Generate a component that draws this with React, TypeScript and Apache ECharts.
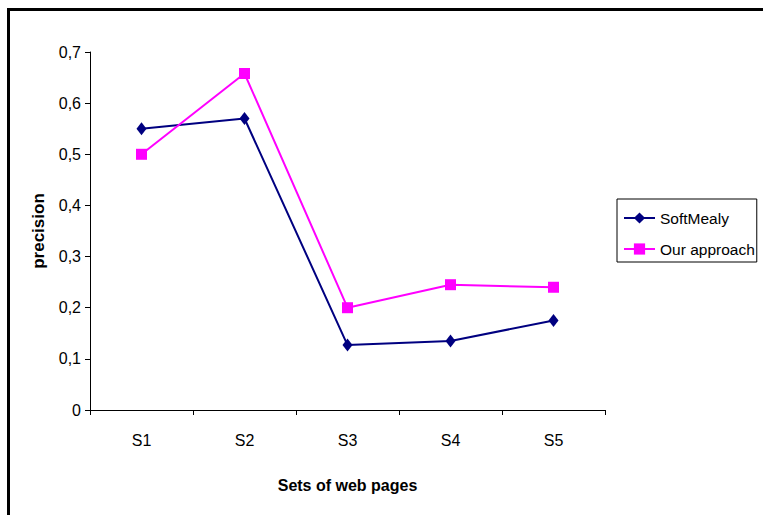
import React, { useEffect, useRef } from "react";
import * as echarts from "echarts";

const categories = ["S1", "S2", "S3", "S4", "S5"];
const softMealy = [0.55, 0.57, 0.127, 0.135, 0.175];
const ourApproach = [0.5, 0.658, 0.2, 0.245, 0.24];
const seriesNames = ["SoftMealy", "Our approach"];

const FONT = "'Liberation Sans', Arial, sans-serif";

export default function App() {
  const ref = useRef<HTMLDivElement>(null);
  useEffect(() => {
    if (!ref.current) return;
    const chart = echarts.init(ref.current, undefined, { renderer: "svg" });
    chart.setOption({
      animation: false,
      backgroundColor: "#fff",
      textStyle: { fontFamily: FONT },
      graphic: [
        {
          type: "rect",
          shape: { x: 8.5, y: 9.5, width: 900, height: 700 },
          style: { fill: "none", stroke: "#000", lineWidth: 3 },
          silent: true,
        },
      ],
      grid: { left: 90, top: 52, right: 158, bottom: 105, containLabel: false },
      legend: {
        orient: "vertical",
        left: 617,
        top: 199,
        borderColor: "#000",
        borderWidth: 1,
        borderRadius: 0,
        padding: [11, 2, 5, 6],
        itemGap: 15,
        itemWidth: 31,
        itemHeight: 14,
        textStyle: { fontSize: 15.5, color: "#000", fontFamily: FONT },
        data: seriesNames,
      },
      xAxis: {
        type: "category",
        data: categories,
        boundaryGap: true,
        name: "Sets of web pages",
        nameLocation: "middle",
        nameGap: 67,
        nameTextStyle: { fontSize: 16, fontWeight: "bold", color: "#000", fontFamily: FONT },
        axisLine: { lineStyle: { color: "#000", width: 1 } },
        axisTick: { show: true, length: 5, lineStyle: { color: "#000" } },
        axisLabel: { fontSize: 16, color: "#000", margin: 22, fontFamily: FONT },
        splitLine: { show: false },
      },
      yAxis: {
        type: "value",
        min: 0,
        max: 0.7,
        interval: 0.1,
        name: "precision",
        nameLocation: "middle",
        nameGap: 43,
        nameTextStyle: { fontSize: 17, fontWeight: "bold", color: "#000", fontFamily: FONT },
        axisLine: { show: true, lineStyle: { color: "#000", width: 1 } },
        axisTick: { show: true, length: 5, lineStyle: { color: "#000" } },
        axisLabel: {
          fontSize: 16,
          color: "#000",
          margin: 9,
          fontFamily: FONT,
          formatter: (v: number) => (v === 0 ? "0" : v.toFixed(1).replace(".", ",")),
        },
        splitLine: { show: false },
      },
      series: [
        {
          name: seriesNames[0],
          type: "line",
          data: softMealy,
          symbol: "diamond",
          symbolSize: [10, 13],
          lineStyle: { color: "#000080", width: 2 },
          itemStyle: { color: "#000080" },
        },
        {
          name: seriesNames[1],
          type: "line",
          data: ourApproach,
          symbol: "rect",
          symbolSize: 11,
          lineStyle: { color: "#FF00FF", width: 2 },
          itemStyle: { color: "#FF00FF" },
        },
      ],
    });
    return () => chart.dispose();
  }, []);
  return (
    <div
      ref={ref}
      style={{ position: "absolute", left: 0, top: 0, width: 763, height: 515 }}
    />
  );
}
